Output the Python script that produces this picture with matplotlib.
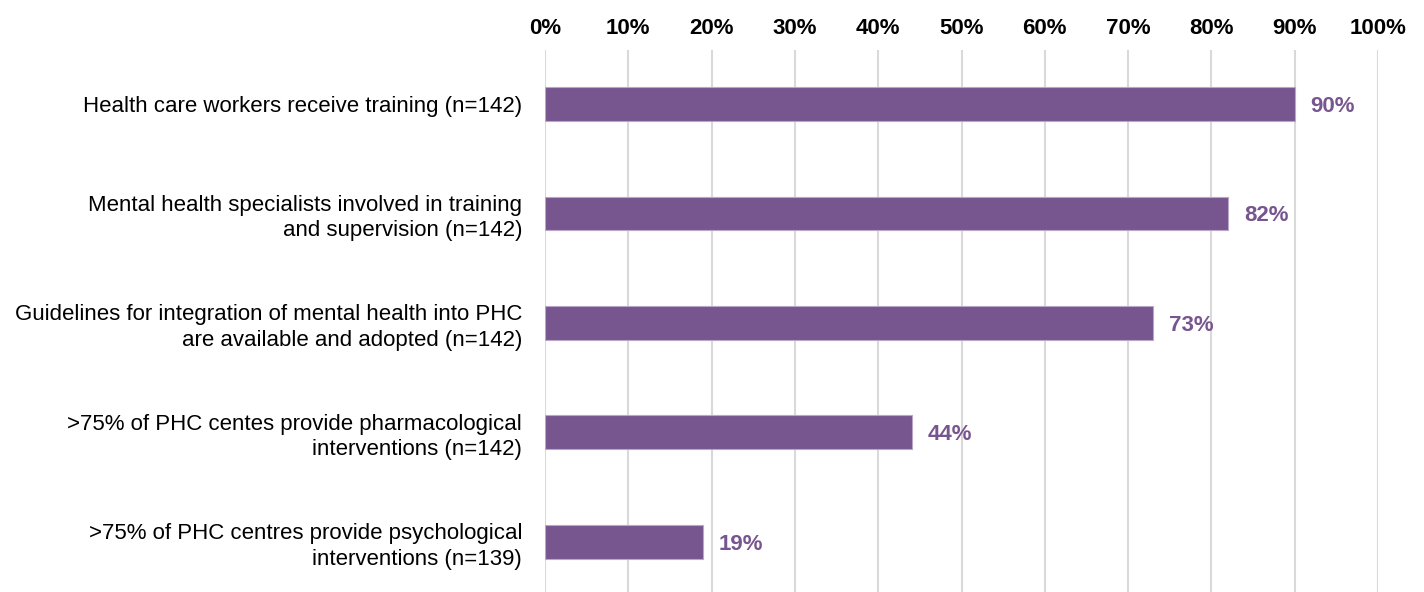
import matplotlib.pyplot as plt
import numpy as np

plt.rcParams['font.family'] = ['Liberation Sans', 'DejaVu Sans']

# data
categories = [
    "Health care workers receive training (n=142)",
    "Mental health specialists involved in training\nand supervision (n=142)",
    "Guidelines for integration of mental health into PHC\nare available and adopted (n=142)",
    ">75% of PHC centes provide pharmacological\ninterventions (n=142)",
    ">75% of PHC centres provide psychological\ninterventions (n=139)",
]
values = [90, 82, 73, 44, 19]
xticks = [0, 10, 20, 30, 40, 50, 60, 70, 80, 90, 100]

bar_color = "#77558F"

fig = plt.figure(figsize=(14.24, 5.92), dpi=100)
ax = fig.add_axes([545 / 1424, 0, 833 / 1424, 1 - 50 / 592])

y = np.arange(len(categories))
ax.barh(y, values, height=0.31, color=bar_color, edgecolor="#B9A6C8",
        linewidth=0.8, zorder=3)

for yi, v in zip(y, values):
    ax.text(v + 1.9, yi, "%d%%" % v, va="center_baseline", ha="left",
            color=bar_color, fontsize=16, fontweight="bold", zorder=4)

ax.set_xlim(0, 100)
ax.set_ylim(4.457, -0.493)
ax.set_xticks(xticks)
ax.set_xticklabels(["%d%%" % t for t in xticks], fontsize=16, fontweight="bold")
ax.xaxis.tick_top()
ax.tick_params(axis="x", length=0, pad=8)
ax.set_yticks(y)
ax.set_yticklabels(categories, fontsize=16, ha="right", linespacing=1.28)
ax.tick_params(axis="y", length=0, pad=16.5)

ax.grid(axis="x", color="#D9D9D9", linewidth=1.5, zorder=0)
for s in ax.spines.values():
    s.set_visible(False)

fig.savefig("out.png", dpi=100)
